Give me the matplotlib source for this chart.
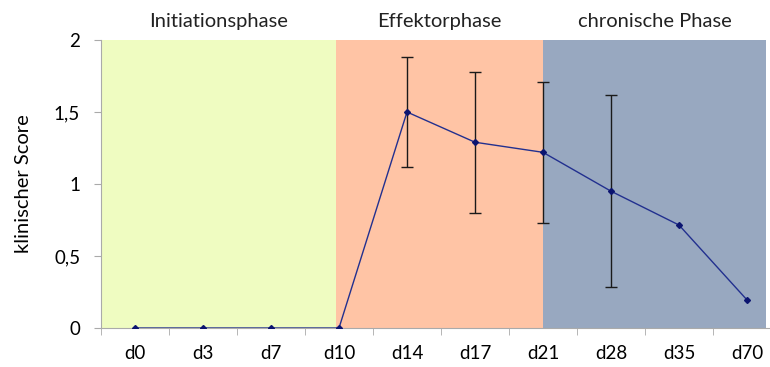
import numpy as np
import matplotlib
matplotlib.use("Agg")
import matplotlib.pyplot as plt

plt.rcParams['font.family'] = ['Lato', 'DejaVu Sans']

days = ["d0", "d3", "d7", "d10", "d14", "d17", "d21", "d28", "d35", "d70"]
score = [0, 0, 0, 0, 1.50, 1.29, 1.22, 0.95, 0.715, 0.195]
err = [0, 0, 0, 0, 0.38, 0.49, 0.49, 0.665, 0, 0]
yticks = [0, 0.5, 1, 1.5, 2]
ylabels = ["0", "0,5", "1", "1,5", "2"]
phases = ["Initiationsphase", "Effektorphase", "chronische Phase"]
phase_bounds = [(-0.5, 2.95), (2.95, 6), (6, 9.28)]
phase_colors = ["#EFFCC1", "#FFC4A5", "#98A8C0"]

W, H = 770, 367
fig = plt.figure(figsize=(W / 100, H / 100), dpi=100)
ax = fig.add_axes([101 / W, (H - 328) / H, 680 / W, 288 / H])

x = np.arange(len(days))
for (a, b), c, name in zip(phase_bounds, phase_colors, phases):
    ax.axvspan(a, b, ymin=0, ymax=1, color=c, lw=0, zorder=0)
    ax.text((a + b) / 2, 2.07, name, ha="center", va="bottom", fontsize=14.5, color="#222222")

has_err = [i for i, e in enumerate(err) if e > 0]
ax.errorbar(x[has_err], np.array(score)[has_err], yerr=np.array(err)[has_err],
            fmt="none", ecolor="#1a1a1a", elinewidth=1, capsize=4, capthick=1, zorder=2)
ax.plot(x, score, color="#22308f", lw=1, marker="D", ms=3, mfc="#0b1470", mec="#0b1470", zorder=3)

ax.set_xlim(-0.5, 9.5)
ax.set_ylim(0, 2)
ax.set_xticks(x)
ax.set_xticklabels(days, fontsize=13.5)
ax.set_xticks(np.arange(-0.5, 10, 1), minor=True)
ax.tick_params(axis="x", which="major", length=0, pad=12)
ax.tick_params(axis="x", which="minor", length=5, color="#aaaaaa")
ax.set_yticks(yticks)
ax.set_yticklabels(ylabels, fontsize=13.5)
ax.tick_params(axis="y", length=5, color="#aaaaaa", pad=10)
ax.set_ylabel("klinischer Score", fontsize=14.5, labelpad=16)

for s in ["top", "right"]:
    ax.spines[s].set_visible(False)
ax.spines["left"].set_color("#aaaaaa")
ax.spines["bottom"].set_color("#aaaaaa")

fig.savefig("out.png", dpi=100)
